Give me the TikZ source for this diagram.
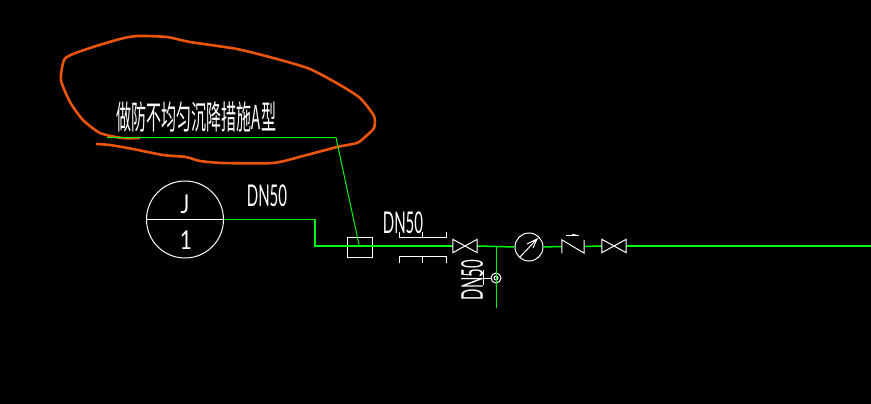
\documentclass[tikz,border=0pt]{standalone}
\usepackage{fontspec}
\setmainfont{Lato}
\newfontfamily\cjk{Noto Sans CJK SC}
\usetikzlibrary{positioning}
\definecolor{pipegreen}{RGB}{0,245,20}
\definecolor{markorange}{RGB}{235,85,10}
\tikzset{
    pipe/.style={draw=pipegreen,line width=1.5pt},
    symbolline/.style={draw=white,line width=1pt},
    cadtext/.style={text=white,inner sep=0pt,font=\fontsize{30}{30}\selectfont,xscale=0.5},
    valve/.style={minimum width=24pt,minimum height=13pt,inner sep=0pt},
}
\begin{document}
\begin{tikzpicture}[x=1pt,y=-1pt]
		\fill[black] (0,0) rectangle (871,404);
		\useasboundingbox (0,0) rectangle (871,404);
		% hand drawn mark
		\draw[draw=markorange,line width=2.6pt,line join=round] plot[smooth,tension=0.4] coordinates {(96,144) (110,145) (133,149) (163,155) (186,157) (200,161) (223,163) (273,163) (303,156) (337,147) (357,143) (365,137) (374,128) (374,116) (360,98) (340,85) (310,69) (277,59) (237,49) (190,42) (167,37) (137,36) (120,39) (93,47) (73,54) (64,60) (61,80) (70,102) (83,120) (100,133) (122,138) (140,138)};
		% note
		\node[cadtext,font=\cjk\fontsize{33}{33}\selectfont,xscale=0.91] (note) at (196.5,116.5) {做防不均匀沉降措施A型};
		\coordinate (noteStart) at (107,137.5);
		\coordinate (noteBend) at (336,137.5);
		% pipe symbols
		\node[shape=circle,symbolline,minimum size=77pt,inner sep=0pt] (J) at (185,219.5) {};
		\node[cadtext,xscale=1.6] (Jtop) at (185,204.5) {\fontsize{26}{26}\selectfont J};
		\node[cadtext,xscale=1.6] (Jbot) at (186,240) {\fontsize{26}{26}\selectfont 1};
		\node[cadtext] (dnA) at (267,196) {DN50};
		\node[cadtext] (dnB) at (403,223) {DN50};
		\node[rotate=90,cadtext] (dnC) at (472,280) {DN50};
		\coordinate (bendA) at (315,219.5);
		\coordinate (bendB) at (315,246);
		\node[shape=rectangle,symbolline,minimum width=25pt,minimum height=20pt,inner sep=0pt] (box) at (359.5,247) {};
		\node[valve] (V1) at (465,246) {};
		\node[shape=circle,symbolline,minimum size=28pt,inner sep=0pt] (gauge) at (529,247) {};
		\node[valve,minimum width=22pt] (check) at (573,246.5) {};
		\node[valve] (V2) at (614,246) {};
		\coordinate (tee) at (496.5,246);
		\coordinate (branchEnd) at (496.5,308);
		\coordinate (pipeEnd) at (871,246);
		\node[shape=circle,symbolline,minimum size=10pt,inner sep=0pt] (drain) at (496,278) {};
		\node[shape=circle,symbolline,minimum size=4pt,inner sep=0pt] (drainIn) at (496,278) {};
		\coordinate (stem) at (483,278);

		\path[pipe] (J.east) -- (bendA) -- (bendB) -- (V1.west);
		\path[pipe] (V1.east) -- (gauge.west);
		\path[pipe] (gauge.east) -- (check.west);
		\path[pipe] (check.east) -- (V2.west);
		\path[pipe] (V2.east) -- (pipeEnd);
		\path[pipe] (tee) -- (branchEnd);
		\draw[pipegreen,line width=1pt] (noteStart) -- (noteBend) -- (box.center);

		\foreach \v in {V1,V2}
			\draw[symbolline] (\v.north west) -- (\v.south east) -- (\v.north east) -- (\v.south west) -- cycle;
		\draw[symbolline] (J.west) -- (J.east);
		\draw[symbolline] (check.south west) -- (check.north west) -- (check.south east) -- (check.north east);
		\draw[symbolline] (566,235.7) -- (579,235.7);
		\fill[white] (572,235.7) -- (572,234) -- (576,234.5) -- (578,235.7) -- cycle;
		\draw[symbolline] (520,257) -- (537,239) -- (527,244);
		\draw[symbolline] (537,239) -- (533,248);
		\draw[symbolline] (399.3,231.7) -- (399.3,237.3) -- (446.7,237.3) -- (446.7,231.7);
		\draw[symbolline] (422.7,231.7) -- (422.7,237.3);
		\draw[symbolline] (399.3,263) -- (399.3,256.7) -- (446.7,256.7) -- (446.7,263);
		\draw[symbolline] (422.7,256.7) -- (422.7,263);
		\draw[symbolline] (stem) -- (drain.west);
		\draw[symbolline] (483,270) -- (483,285);
\end{tikzpicture}
\end{document}
